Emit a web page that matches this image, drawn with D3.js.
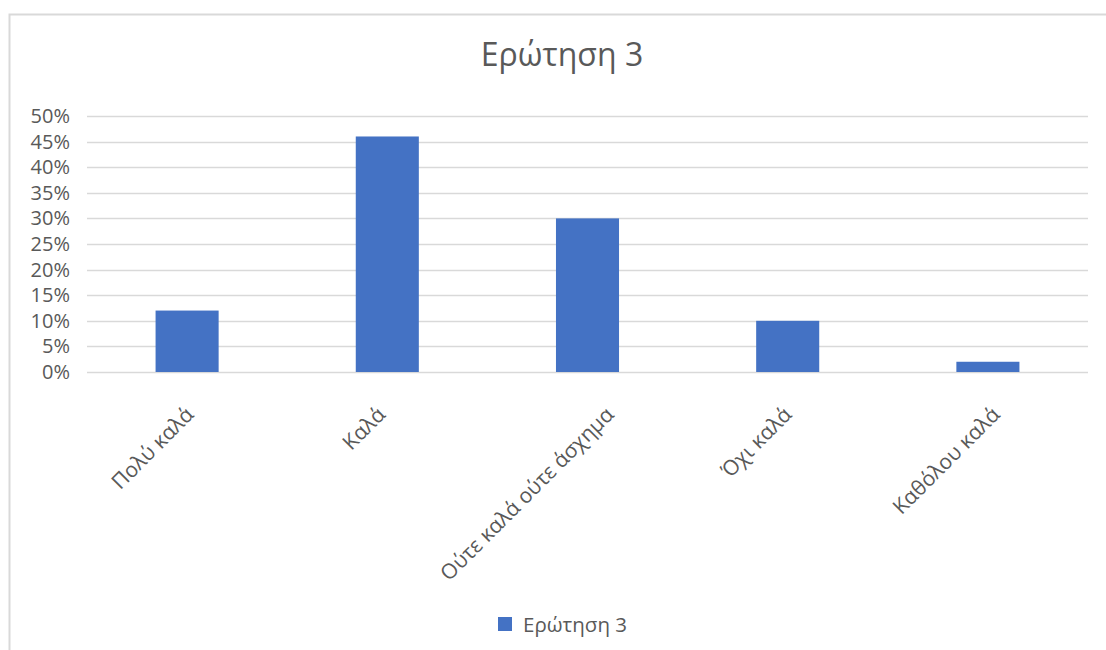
<!DOCTYPE html>
<html><head><meta charset="utf-8">
<script src="https://cdn.jsdelivr.net/npm/d3@7"></script>
<style>body{margin:0;background:#fff;} svg{display:block;}</style>
</head><body>
<script>
const title = "Ερώτηση 3";
const seriesName = "Ερώτηση 3";
const categories = ["Πολύ καλά", "Καλά", "Ούτε καλά ούτε άσχημα", "Όχι καλά", "Καθόλου καλά"];
const values = [0.12, 0.46, 0.30, 0.10, 0.02];
const yTicks = [0, 0.05, 0.10, 0.15, 0.20, 0.25, 0.30, 0.35, 0.40, 0.45, 0.50];

const W = 1106, H = 650;
const font = "'Open Sans', 'Noto Sans', sans-serif";
const textColor = "#595959";
const barColor = "#4472C4";
const gridColor = "#D9D9D9";

const svg = d3.select("body").append("svg").attr("width", W).attr("height", H);

// chart frame
svg.append("rect").attr("x", 9.5).attr("y", 14.5).attr("width", W + 10).attr("height", H + 10)
  .attr("fill", "#fff").attr("stroke", "#D9D9D9").attr("stroke-width", 2);

const m = {left: 87, right: 1088, top: 116, bottom: 372};
const x = d3.scaleBand().domain(categories).range([m.left, m.right]).paddingInner(0.685).paddingOuter(0.3425);
const y = d3.scaleLinear().domain([0, 0.5]).range([m.bottom, m.top]);

// gridlines
svg.append("g").selectAll("line").data(yTicks).join("line")
  .attr("x1", m.left).attr("x2", m.right)
  .attr("y1", d => Math.round(y(d)) + 0.5).attr("y2", d => Math.round(y(d)) + 0.5)
  .attr("stroke", gridColor).attr("stroke-width", 1.5);

// y axis labels
const yAxis = d3.axisLeft(y).tickValues(yTicks).tickFormat(d3.format(".0%")).tickSize(0).tickPadding(0);
const gy = svg.append("g").attr("transform", `translate(70,0)`).call(yAxis);
gy.select(".domain").remove();
gy.selectAll("text").attr("font-family", font).attr("font-size", 20).attr("fill", textColor);

// bars
svg.append("g").selectAll("rect").data(values).join("rect")
  .attr("x", (d, i) => x(categories[i]))
  .attr("y", d => y(d))
  .attr("width", x.bandwidth())
  .attr("height", d => y(0) - y(d))
  .attr("fill", barColor);

// x axis labels
const xAxis = d3.axisBottom(x).tickSize(0).tickPadding(0);
const gx = svg.append("g").attr("transform", `translate(0,${m.bottom})`).call(xAxis);
gx.select(".domain").remove();
gx.selectAll("text")
  .attr("font-family", font).attr("font-size", 21).attr("fill", textColor)
  .attr("text-anchor", "end").attr("dy", null).attr("y", 0)
  .attr("transform", function() {
    const L = this.getComputedTextLength();
    return `translate(${0.153 * L - 8.4},44) rotate(-45)`;
  });

// title
svg.append("text").attr("x", 562).attr("y", 66).attr("text-anchor", "middle")
  .attr("font-family", font).attr("font-size", 32).attr("fill", textColor).text(title);

// legend
const lg = svg.append("g").attr("transform", "translate(498,617)");
lg.append("rect").attr("width", 14).attr("height", 14).attr("fill", barColor);
lg.append("text").attr("x", 25).attr("y", 14.5).attr("font-family", font).attr("font-size", 20.5)
  .attr("fill", textColor).text(seriesName);
</script>
</body></html>
